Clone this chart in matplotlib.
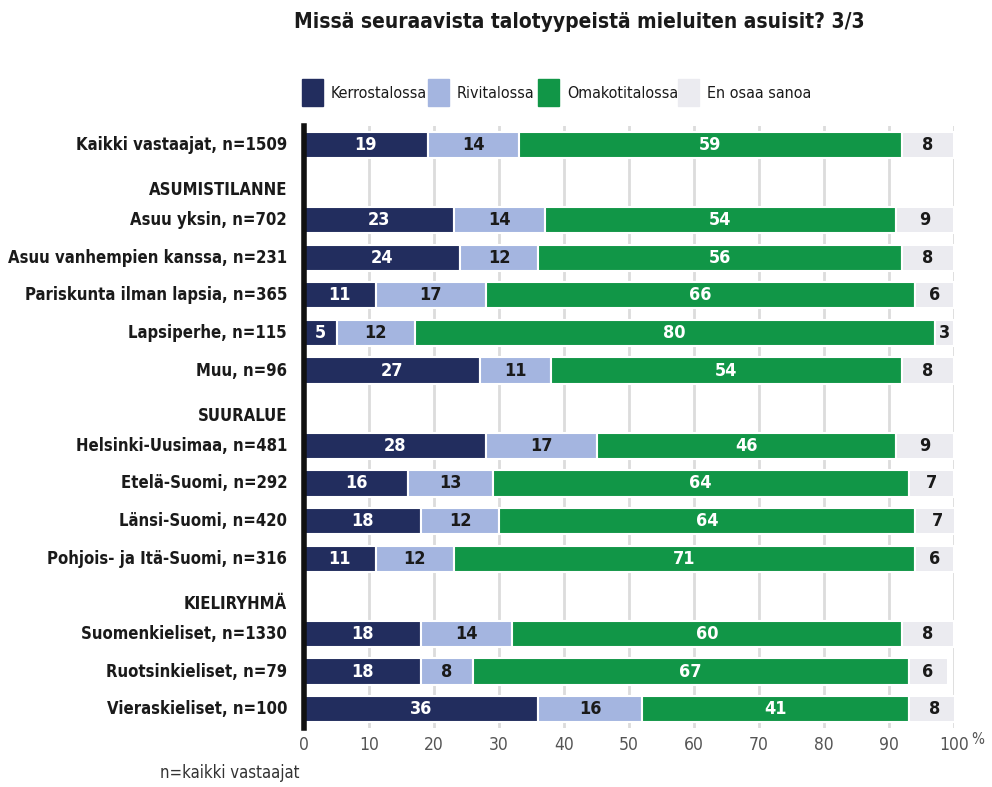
import matplotlib.pyplot as plt
from matplotlib import font_manager as fm
from matplotlib.patches import Rectangle

# pick a narrow font if there is one
names = set(f.name for f in fm.fontManager.ttflist)
cond = [f for f in fm.fontManager.ttflist if f.name == 'DejaVu Sans' and f.stretch == 'condensed']
if 'Liberation Sans Narrow' in names:
    FAM = 'Liberation Sans Narrow'
    STR = 'normal'
else:
    FAM = 'DejaVu Sans'
    STR = 'condensed' if cond else 'normal'
plt.rcParams['font.family'] = [FAM, 'DejaVu Sans']
plt.rcParams['font.stretch'] = STR

# data
series = ['Kerrostalossa', 'Rivitalossa', 'Omakotitalossa', 'En osaa sanoa']
colors = ['#222d5e', '#a4b5e0', '#119647', '#ebebf0']
txtcol = ['white', '#1a1a1a', 'white', '#1a1a1a']

rows = ['Kaikki vastaajat, n=1509',
        'Asuu yksin, n=702', 'Asuu vanhempien kanssa, n=231',
        'Pariskunta ilman lapsia, n=365', 'Lapsiperhe, n=115', 'Muu, n=96',
        'Helsinki-Uusimaa, n=481', 'Etelä-Suomi, n=292', 'Länsi-Suomi, n=420',
        'Pohjois- ja Itä-Suomi, n=316',
        'Suomenkieliset, n=1330', 'Ruotsinkieliset, n=79', 'Vieraskieliset, n=100']
slots = [0, 2, 3, 4, 5, 6, 8, 9, 10, 11, 13, 14, 15]
headers = ['ASUMISTILANNE', 'SUURALUE', 'KIELIRYHMÄ']
header_slots = [1, 7, 12]

kerros = [19, 23, 24, 11, 5, 27, 28, 16, 18, 11, 18, 18, 36]
rivi = [14, 14, 12, 17, 12, 11, 17, 13, 12, 12, 14, 8, 16]
omakoti = [59, 54, 56, 66, 80, 54, 46, 64, 64, 71, 60, 67, 41]
eos = [8, 9, 8, 6, 3, 8, 9, 7, 7, 6, 8, 6, 8]
values = [kerros, rivi, omakoti, eos]

fig = plt.figure(figsize=(9.92, 7.87), dpi=100)
ax = fig.add_axes([304/992, 1-728/787, 650/992, 602/787])

left = [0]*len(rows)
for k in range(4):
    ax.barh(slots, values[k], left=left, height=0.7, color=colors[k],
            edgecolor='white', linewidth=1.5, zorder=3)
    for i in range(len(rows)):
        v = values[k][i]
        ax.text(left[i]+v/2, slots[i], str(v), ha='center', va='center',
                color=txtcol[k], fontsize=13, fontweight='bold', zorder=4)
    left = [left[i]+values[k][i] for i in range(len(rows))]

for i in range(len(rows)):
    ax.text(-2.6, slots[i], rows[i], ha='right', va='center', fontsize=12,
            fontweight='bold', color='#1a1a1a')
for i in range(len(headers)):
    ax.text(-2.6, header_slots[i]+0.2, headers[i], ha='right', va='center',
            fontsize=12, fontweight='bold', color='#1a1a1a')

ax.set_xlim(0, 100)
ax.set_ylim(15.5, -0.5)
ax.set_yticks([])
ax.set_xticks(range(0, 101, 10))
ax.set_xticklabels([str(t) for t in range(0, 101, 10)], fontsize=12.5, color='#555555')
ax.tick_params(axis='x', length=0, pad=6)
for t in range(10, 101, 10):
    ax.axvline(t, color='#dcdcdc', lw=2, zorder=1)
for s in ['top', 'right', 'bottom']:
    ax.spines[s].set_visible(False)
ax.spines['left'].set_linewidth(4)
ax.spines['left'].set_color('#111111')
ax.spines['left'].set_zorder(5)
fig.text(971/992, 1-740/787, '%', fontsize=11, color='#555555', ha='left', va='center')

# title
fig.text(579/992, 1-22/787, 'Missä seuraavista talotyypeistä mieluiten asuisit? 3/3',
         ha='center', va='center', fontsize=15, fontweight='bold', color='#1a1a1a')

# legend drawn by hand
leg_x = [302, 428, 538, 678]
for k in range(4):
    fig.patches.append(Rectangle((leg_x[k]/992, 1-106/787), 21/992, 27/787,
                                 transform=fig.transFigure, color=colors[k]))
    fig.text((leg_x[k]+29)/992, 1-93/787, series[k], ha='left', va='center',
             fontsize=11.5, color='#1a1a1a')

fig.text(230/992, 1-773/787, 'n=kaikki vastaajat', ha='center', va='center',
         fontsize=12, color='#333333')

fig.savefig('out.png', dpi=100)
